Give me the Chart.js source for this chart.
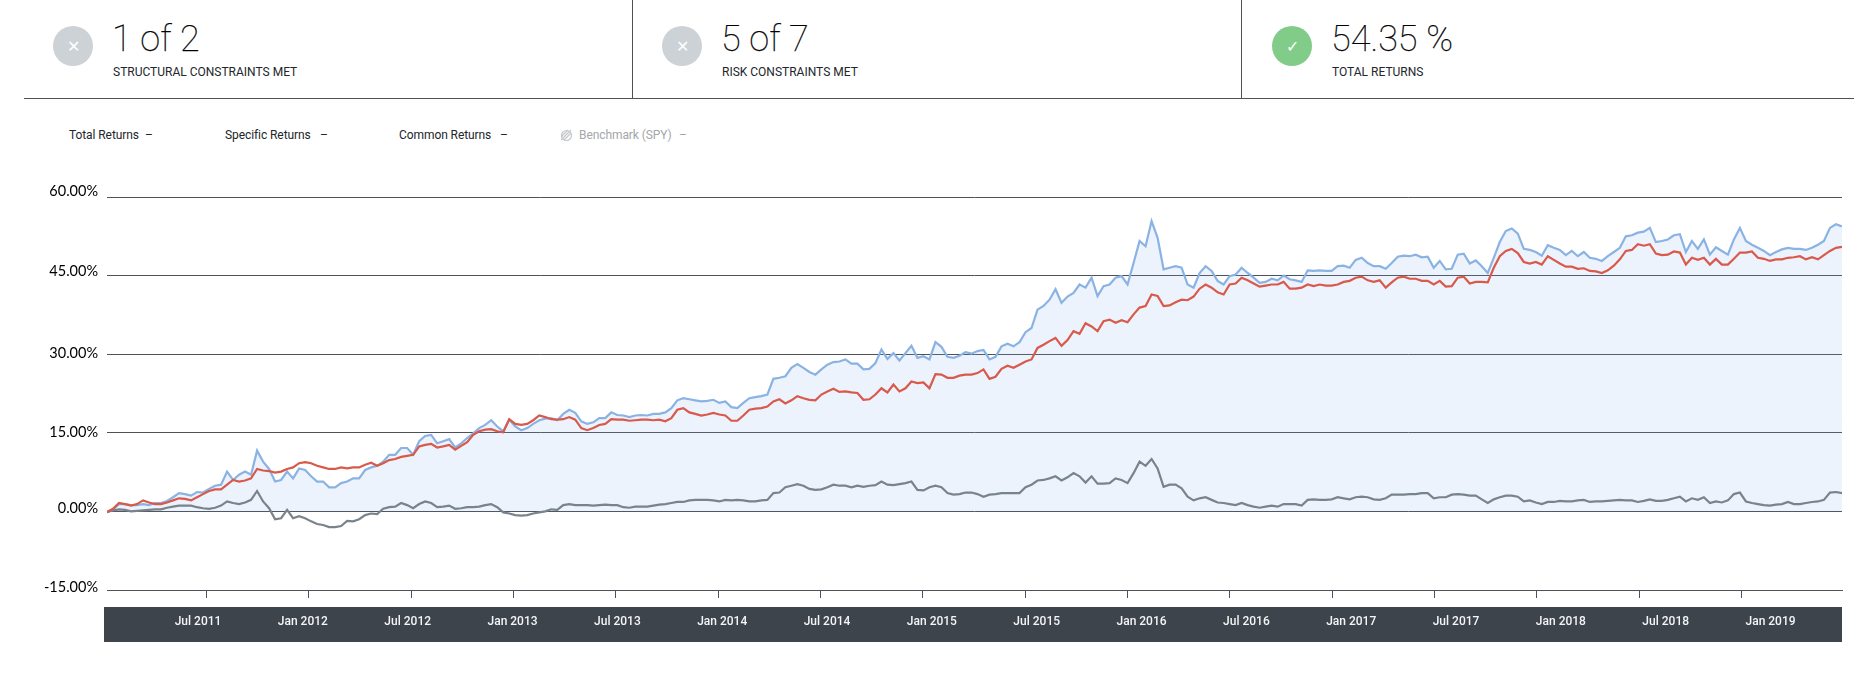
<!DOCTYPE html>
<html>
<head>
<meta charset="utf-8">
<script src="https://cdn.jsdelivr.net/npm/chart.js@4"></script>
<style>
    html, body { margin: 0; padding: 0; background: #fff; }
    body { position: relative; width: 1858px; height: 680px; overflow: hidden; font-family: Roboto, sans-serif; color: #22262b; }
    #root > * { position: absolute; }
    canvas { left: 0; top: 0; z-index: 1; }
    .rule { background: #4d5259; }
    .badge { width: 40px; height: 40px; border-radius: 50%; top: 26px; display: flex; align-items: center; justify-content: center; color: #fff; font-size: 16px; }
    .big { top: 17px; font-weight: 100; font-size: 36px; line-height: 44px; white-space: nowrap; color: #000; -webkit-text-stroke: 0.25px #000; }
    .small { top: 65px; font-size: 12px; line-height: 14px; white-space: nowrap; }
    .legend { top: 128px; font-size: 12px; letter-spacing: -0.08px; line-height: 14px; white-space: nowrap; }
    .off { color: #a3a6aa; }
</style>
</head>
<body>
<div id="root"></div>
<script>
// summary cards along the top
const cardValues = ["1 of 2", "5 of 7", "54.35 %"]
const cardLabels = ["STRUCTURAL CONSTRAINTS MET", "RISK CONSTRAINTS MET", "TOTAL RETURNS"]
const cardMet = [false, false, true]

const legendNames = ["Total Returns", "Specific Returns", "Common Returns", "Benchmark (SPY)"]

// y axis, in percent
const yTicks = [-15, 0, 15, 30, 45, 60]
const yTickLabels = ["-15.00%", "0.00%", "15.00%", "30.00%", "45.00%", "60.00%"]
// the labels do not sit quite on their grid lines in the original
const yLabelValues = [-14.45, 0.55, 15, 30.2, 45.85, 61.1]

// x axis, in months since Jan 2011
const xTicks = [6, 12, 18, 24, 30, 36, 42, 48, 54, 60, 66, 72, 78, 84, 90, 96]
const xTickLabels = ["Jul 2011", "Jan 2012", "Jul 2012", "Jan 2013", "Jul 2013", "Jan 2014", "Jul 2014", "Jan 2015",
    "Jul 2015", "Jan 2016", "Jul 2016", "Jan 2017", "Jul 2017", "Jan 2018", "Jul 2018", "Jan 2019"]

// sampled readings of the three lines, one every 0.352 months from month 0.17
const firstMonth = 0.17
const monthStep = 0.352

const totalReturns = [
    -0.2, 0.4, 1.4, 1.4, 1.2, 1.2, 1.4, 1.2, 1.6, 1.6, 2.0, 2.7, 3.5, 3.3, 3.0, 3.7, 3.6, 4.3, 4.9, 5.1, 7.6, 6.0, 7.0, 7.6,
    7.0, 11.6, 9.5, 8.1, 5.7, 6.0, 7.6, 6.3, 8.2, 7.9, 6.7, 5.7, 5.7, 4.6, 4.6, 5.4, 5.7, 6.3, 6.3, 7.9, 8.4, 8.7, 9.5, 10.8,
    10.8, 12.1, 12.1, 10.8, 13.4, 14.4, 14.6, 13.0, 13.4, 13.8, 12.2, 13.0, 14.0, 14.9, 15.9, 16.5, 17.4, 16.2, 15.3, 17.5, 16.2, 15.5, 15.9, 16.7,
    17.4, 17.7, 17.8, 17.4, 18.6, 19.4, 18.8, 17.2, 16.7, 17.0, 17.8, 17.8, 18.9, 18.4, 18.3, 18.0, 18.3, 18.4, 18.3, 18.6, 18.6, 18.9, 19.7, 21.2,
    21.6, 21.4, 21.2, 21.0, 21.1, 21.3, 20.7, 21.0, 19.9, 19.7, 20.7, 21.6, 21.8, 22.0, 22.3, 25.3, 25.5, 25.8, 27.4, 28.1, 27.4, 26.6, 26.1, 27.1,
    28.0, 28.5, 28.6, 29.0, 28.2, 28.2, 27.1, 27.2, 28.3, 30.9, 29.1, 30.2, 28.8, 30.2, 31.6, 29.3, 29.6, 29.0, 32.3, 31.4, 29.5, 29.3, 29.7, 30.4,
    30.1, 30.6, 30.8, 29.0, 29.5, 31.5, 32.0, 31.5, 32.3, 34.2, 35.0, 38.5, 39.2, 40.4, 42.4, 39.8, 41.0, 41.7, 43.3, 42.7, 44.6, 41.1, 43.0, 43.3,
    44.6, 44.9, 43.3, 47.4, 51.6, 50.6, 55.4, 52.2, 46.2, 46.5, 46.8, 46.5, 43.3, 42.7, 45.5, 46.8, 45.9, 44.0, 43.3, 44.9, 45.2, 46.5, 45.5, 44.6, 43.6,
    43.8, 44.4, 44.1, 45.0, 44.3, 44.1, 43.8, 46.0, 45.9, 46.0, 45.9, 45.9, 46.8, 46.9, 46.5, 48.0, 48.4, 47.4, 46.8, 46.8, 46.3, 47.4, 48.6, 48.8,
    48.7, 49.0, 48.5, 48.6, 46.5, 47.8, 46.2, 46.3, 49.0, 49.2, 47.3, 47.9, 46.8, 45.5, 48.4, 51.4, 53.5, 54.0, 53.0, 50.1, 49.9, 49.5, 48.8, 50.8,
    50.3, 49.9, 48.9, 49.7, 48.7, 49.5, 48.4, 48.2, 47.8, 48.7, 49.5, 50.3, 52.5, 52.7, 53.2, 53.4, 54.1, 51.4, 51.6, 51.9, 52.7, 52.9, 49.5, 51.6,
    50.1, 51.9, 49.0, 50.4, 49.7, 49.0, 51.9, 54.1, 51.6, 50.9, 50.3, 49.7, 48.9, 49.5, 50.0, 50.3, 50.1, 50.1, 49.9, 50.3, 50.9, 51.6, 54.1, 54.8, 54.4
]

const specificReturns = [
    -0.1, 0.5, 1.6, 1.4, 1.1, 1.4, 2.1, 1.7, 1.4, 1.4, 1.7, 2.1, 2.5, 2.4, 2.1, 2.7, 3.3, 3.9, 4.2, 4.2, 5.1, 6.0, 5.7, 5.9,
    6.3, 8.1, 7.8, 7.7, 7.4, 7.6, 8.1, 8.4, 9.2, 9.4, 9.2, 8.7, 8.4, 8.1, 8.1, 8.4, 8.2, 8.4, 8.4, 8.9, 9.3, 8.7, 9.2, 9.8,
    10.0, 10.4, 10.6, 10.8, 12.4, 12.7, 12.9, 12.2, 12.4, 12.7, 11.8, 12.5, 13.2, 14.6, 15.3, 15.6, 15.7, 15.3, 15.1, 17.6, 16.7, 16.5, 16.7, 17.4,
    18.3, 18.0, 17.6, 17.5, 17.6, 18.0, 17.5, 15.9, 15.5, 15.9, 16.5, 16.7, 17.6, 17.5, 17.5, 17.3, 17.4, 17.5, 17.5, 17.4, 17.5, 17.2, 17.8, 19.4,
    19.7, 18.9, 18.6, 18.3, 18.5, 18.8, 18.5, 18.3, 17.3, 17.3, 18.3, 19.4, 19.6, 19.7, 20.0, 21.0, 21.4, 20.6, 21.2, 22.0, 21.6, 21.3, 21.2, 22.3,
    22.9, 23.4, 22.8, 22.9, 22.7, 22.6, 21.3, 21.4, 22.3, 23.5, 22.7, 24.2, 22.9, 23.5, 24.8, 24.5, 24.6, 23.5, 26.2, 26.1, 25.5, 25.5, 25.9, 26.1,
    26.1, 26.4, 27.1, 25.3, 25.7, 27.2, 27.8, 27.4, 28.0, 28.6, 29.0, 31.2, 31.8, 32.5, 33.1, 31.6, 32.7, 34.4, 33.9, 35.9, 35.3, 34.4, 36.3, 36.6,
    36.0, 36.5, 36.1, 37.6, 38.9, 39.2, 41.4, 41.1, 39.2, 39.3, 39.9, 40.4, 40.3, 41.0, 42.5, 43.3, 42.7, 41.8, 41.4, 43.3, 43.5, 44.6, 44.1, 43.5, 42.9,
    43.1, 43.3, 43.3, 43.8, 42.5, 42.5, 42.7, 43.3, 43.0, 43.3, 43.1, 43.1, 43.3, 43.8, 44.0, 44.6, 44.8, 44.1, 43.8, 44.1, 42.7, 43.7, 44.6, 44.8,
    44.4, 44.4, 44.0, 44.0, 43.3, 44.0, 42.9, 43.0, 44.6, 44.8, 43.5, 43.8, 43.8, 43.7, 46.5, 48.7, 49.7, 50.1, 49.3, 47.6, 47.3, 47.6, 47.1, 48.7,
    48.0, 47.3, 46.7, 46.7, 46.3, 46.4, 45.9, 45.8, 45.5, 46.0, 46.9, 48.1, 49.7, 49.9, 51.0, 50.7, 51.0, 49.2, 48.9, 49.0, 49.6, 49.4, 47.1, 48.4,
    48.0, 48.4, 47.1, 48.2, 47.1, 47.1, 48.2, 49.4, 49.4, 49.6, 48.4, 48.2, 47.8, 48.1, 48.1, 48.4, 48.5, 48.7, 48.1, 48.5, 48.1, 48.9, 49.7, 50.3, 50.5
]

const commonReturns = [
    -0.1, 0.2, 0.4, 0.3, 0.0, 0.1, 0.2, 0.3, 0.4, 0.4, 0.7, 0.9, 1.1, 1.1, 1.1, 0.8, 0.6, 0.5, 0.7, 1.1, 1.9, 1.6, 1.4, 1.7,
    2.2, 3.9, 1.9, 0.6, -1.5, -1.3, 0.3, -1.3, -0.9, -1.3, -1.9, -2.4, -2.6, -3.0, -3.0, -2.8, -1.8, -1.9, -1.5, -0.7, -0.4, -0.5, 0.5, 0.8,
    0.9, 1.6, 1.2, 0.6, 1.4, 1.9, 1.6, 0.8, 0.9, 1.1, 0.5, 0.6, 0.8, 0.8, 0.9, 1.2, 1.4, 0.8, -0.2, -0.4, -0.7, -0.8, -0.7, -0.4,
    -0.2, 0.0, 0.4, 0.3, 1.2, 1.4, 1.2, 1.2, 1.2, 1.1, 1.2, 1.3, 1.2, 1.2, 0.8, 0.7, 0.9, 0.9, 0.9, 1.1, 1.3, 1.4, 1.6, 1.8,
    1.8, 2.1, 2.2, 2.2, 2.2, 2.1, 1.9, 2.2, 2.1, 2.2, 2.1, 1.9, 1.9, 2.1, 2.2, 3.5, 3.6, 4.6, 4.9, 5.2, 4.9, 4.3, 4.1, 4.2,
    4.6, 5.1, 4.9, 4.9, 4.6, 4.9, 4.7, 4.9, 5.0, 5.7, 5.1, 5.0, 5.2, 5.4, 5.7, 4.1, 4.0, 4.6, 4.9, 4.6, 3.5, 3.2, 3.3, 3.6,
    3.6, 3.3, 2.8, 3.2, 3.3, 3.5, 3.5, 3.5, 3.5, 4.6, 5.1, 5.9, 6.0, 6.3, 6.7, 5.9, 6.5, 7.3, 6.7, 5.5, 6.7, 5.3, 5.3, 5.4,
    6.3, 6.0, 5.4, 7.3, 9.5, 8.7, 10.0, 8.2, 4.7, 5.1, 5.1, 4.4, 2.8, 2.1, 2.5, 2.7, 2.2, 1.7, 1.6, 1.4, 1.2, 1.6, 1.2, 0.9, 0.7,
    0.9, 1.1, 0.9, 1.4, 1.4, 1.4, 1.1, 2.2, 2.3, 2.2, 2.2, 2.3, 2.7, 2.5, 2.3, 2.7, 2.8, 2.7, 2.3, 2.2, 2.5, 3.2, 3.2, 3.2,
    3.3, 3.3, 3.5, 3.5, 2.5, 2.7, 2.7, 3.2, 3.3, 3.2, 3.0, 3.0, 2.3, 1.6, 2.3, 2.7, 3.0, 3.0, 2.8, 1.9, 2.1, 1.7, 1.4, 1.8,
    1.8, 2.0, 1.9, 1.9, 2.1, 2.2, 1.8, 1.9, 1.9, 2.0, 2.1, 2.2, 2.1, 2.1, 1.8, 2.0, 2.3, 2.0, 2.0, 2.2, 2.5, 2.8, 1.9, 2.5,
    2.2, 2.7, 1.6, 1.9, 1.7, 2.1, 3.3, 3.6, 1.9, 1.6, 1.4, 1.2, 1.1, 1.3, 1.4, 1.8, 1.4, 1.4, 1.6, 1.8, 1.9, 2.2, 3.6, 3.7, 3.5
]

/**
 * Add a positioned element to the root
 * @param {string} className
 * @param {string} text
 * @param {Object} style
 * @returns {HTMLElement}
 */
function place(className, text, style) {
    const element = document.createElement("div")
    element.className = className
    element.textContent = text
    Object.assign(element.style, style)
    document.getElementById("root").append(element)
    return element
}

function drawHeader() {
    const lefts = [53, 662, 1272]
    cardValues.forEach((value, i) => {
        place("badge", cardMet[i] ? "\u2713" : "\u2715", {
            left: lefts[i] + "px",
            background: cardMet[i] ? "#82cc8a" : "#cdd2d6"
        })
        place("big", value, { left: lefts[i] + 59 + "px" })
        place("small", cardLabels[i], { left: lefts[i] + 60 + "px" })
    })
    place("rule", "", { left: "24px", top: "98px", width: "1830px", height: "1px" })
    place("rule", "", { left: "632px", top: "0", width: "1px", height: "98px" })
    place("rule", "", { left: "1241px", top: "0", width: "1px", height: "98px" })
}

function drawLegend() {
    const nameLefts = [69, 225, 399, 579]
    const dashLefts = [145, 320, 500, 679]
    legendNames.forEach((name, i) => {
        const off = i === 3 ? " off" : ""
        place("legend" + off, name, { left: nameLefts[i] + "px" })
        place("legend" + off, "\u2013", { left: dashLefts[i] + "px" })
    })
    const icon = place("legend", "", { left: "560px", top: "129px" })
    icon.innerHTML = `<svg width="13" height="13" viewBox="0 0 13 13" fill="none" stroke="#c4c7ca" stroke-width="1.2">
        <circle cx="6.5" cy="6.5" r="5"/><path d="M1 11L11 1M4 11L11 4M1 8L8 1"/></svg>`
}

function drawChart() {
    // strip behind the date labels, the canvas is transparent over it
    place("strip", "", { left: "104px", top: "607px", width: "1738px", height: "35px", background: "#3e444c" })

    const ctx = document.createElement("canvas")
    ctx.width = 1858
    ctx.height = 680
    document.getElementById("root").append(ctx)

    const toPoints = values => values.map((y, i) => ({ x: firstMonth + i * monthStep, y }))
    const line = (label, values, color, order) => ({
        label, data: toPoints(values), order,
        borderColor: color, borderWidth: 2.2, pointRadius: 0, tension: 0, fill: false
    })
    const total = line(legendNames[0], totalReturns, "#8ab3e3", 3)
    total.fill = "origin"
    total.backgroundColor = "rgba(120, 170, 240, 0.14)"

    const gridColor = "#4d5259"
    new Chart(ctx, {
        type: "line",
        data: {
            datasets: [
                total,
                line(legendNames[1], specificReturns, "#d9594a", 1),
                line(legendNames[2], commonReturns, "#79838c", 2)
            ]
        },
        options: {
            responsive: false,
            animation: false,
            layout: { padding: { top: 197, right: 16, bottom: 0, left: 0 } },
            plugins: { legend: { display: false }, tooltip: { enabled: false } },
            scales: {
                // month axis with the tick marks
                x: {
                    type: "linear", position: "bottom", weight: 0,
                    min: firstMonth, max: 101.9,
                    afterBuildTicks: scale => { scale.ticks = xTicks.map(value => ({ value })) },
                    afterFit: scale => { scale.height = 8; scale.paddingLeft = 0; scale.paddingRight = 0 },
                    ticks: { display: false },
                    grid: { drawOnChartArea: false, color: gridColor, tickLength: 8 },
                    border: { color: gridColor }
                },
                // date labels, spaced a bit wider than the marks as in the original
                xLabels: {
                    type: "linear", position: "bottom", weight: 1,
                    min: 0.79, max: 100.09,
                    afterBuildTicks: scale => { scale.ticks = xTicks.map(value => ({ value })) },
                    afterFit: scale => { scale.height = 82; scale.paddingLeft = 0; scale.paddingRight = 0 },
                    ticks: {
                        autoSkip: false, maxRotation: 0, padding: 17, color: "#f4f5f6",
                        font: { family: "Roboto", size: 12, weight: 500 },
                        callback: (value, i) => xTickLabels[i]
                    },
                    grid: { display: false, drawTicks: false },
                    border: { display: false }
                },
                // grid lines
                y: {
                    type: "linear", position: "left",
                    min: -15, max: 60,
                    afterBuildTicks: scale => { scale.ticks = yTicks.map(value => ({ value })) },
                    afterFit: scale => { scale.width = 0; scale.paddingTop = 0; scale.paddingBottom = 0 },
                    ticks: { display: false },
                    grid: { color: gridColor, drawTicks: false },
                    border: { display: false }
                },
                // percent labels
                yLabels: {
                    type: "linear", position: "left",
                    min: -15, max: 60,
                    afterBuildTicks: scale => { scale.ticks = yLabelValues.map(value => ({ value })) },
                    afterFit: scale => { scale.width = 107; scale.paddingTop = 0; scale.paddingBottom = 0 },
                    ticks: {
                        padding: 9, color: "#000",
                        font: { family: "Lato", size: 14.5 },
                        callback: (value, i) => yTickLabels[i]
                    },
                    grid: { display: false, drawTicks: false },
                    border: { display: false }
                }
            }
        }
    })
}

function main() {
    drawHeader()
    drawLegend()
    drawChart()
}

window.onload = main
</script>
</body>
</html>
